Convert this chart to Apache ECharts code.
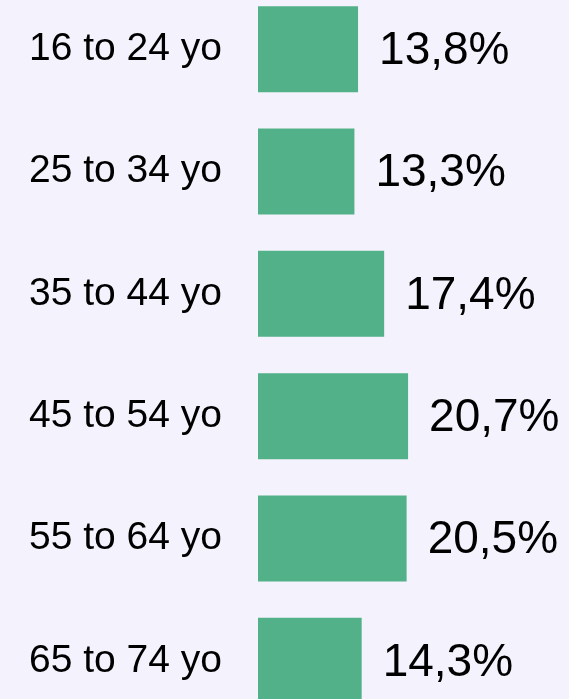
<!DOCTYPE html>
<html>
<head>
<meta charset="utf-8">
<script src="https://cdn.jsdelivr.net/npm/echarts@6/dist/echarts.min.js"></script>
<style>
html,body{margin:0;padding:0;background:#f4f3fd;overflow:hidden;width:569px;height:699px;}
#chart{position:absolute;left:0;top:-12px;width:569px;height:734px;}
</style>
</head>
<body>
<div id="chart"></div>
<script>
const categories = ['16 to 24 yo','25 to 34 yo','35 to 44 yo','45 to 54 yo','55 to 64 yo','65 to 74 yo'];
const values = [13.8, 13.3, 17.4, 20.7, 20.5, 14.3];

const chart = echarts.init(document.getElementById('chart'));
chart.setOption({
  backgroundColor: '#f4f3fd',
  animation: false,
  grid: {left: 258, top: 0, bottom: 0, width: 290, containLabel: false},
  xAxis: {type: 'value', min: 0, max: 40, show: false},
  yAxis: {
    type: 'category', data: categories, inverse: true,
    axisLine: {show: false}, axisTick: {show: false}, splitLine: {show: false},
    axisLabel: {color: '#000', fontFamily: 'Liberation Sans, Arial, sans-serif', fontSize: 39, margin: 36, align: 'right'}
  },
  series: [{
    type: 'bar', data: values, barWidth: 86,
    itemStyle: {color: '#52b188'},
    label: {
      show: true, position: 'right', distance: 21, offset: [0, 2], color: '#000',
      fontFamily: 'Liberation Sans, Arial, sans-serif', fontSize: 46,
      formatter: p => p.value.toFixed(1).replace('.', ',') + '%'
    }
  }]
});
</script>
</body>
</html>
